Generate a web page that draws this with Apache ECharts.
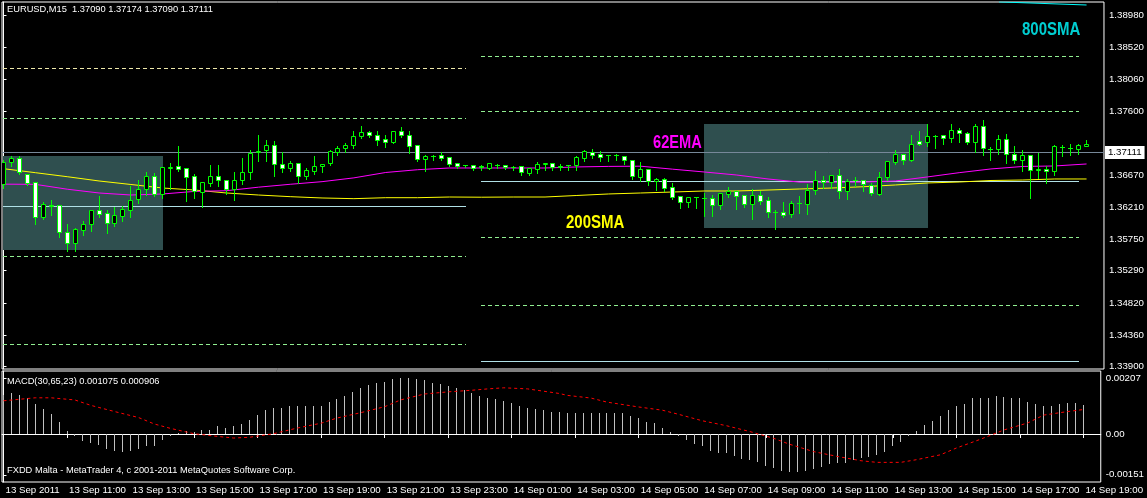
<!DOCTYPE html>
<html><head><meta charset="utf-8">
<script src="https://cdn.jsdelivr.net/npm/echarts@6/dist/echarts.min.js"></script>
<style>html,body{margin:0;padding:0;background:#000;}#c{width:1147px;height:498px;}</style>
</head><body><div id="c"></div>
<script>
// ---------- DATA ----------
const timeLabelBars = [0,8,16,24,32,40,48,56,64,72,80,88,96,104,112,120,128,136];
const timeLabels = ['13 Sep 2011','13 Sep 11:00','13 Sep 13:00','13 Sep 15:00','13 Sep 17:00','13 Sep 19:00','13 Sep 21:00','13 Sep 23:00','14 Sep 01:00','14 Sep 03:00','14 Sep 05:00','14 Sep 07:00','14 Sep 09:00','14 Sep 11:00','14 Sep 13:00','14 Sep 15:00','14 Sep 17:00','14 Sep 19:00'];
const priceTicks = [1.3390,1.3436,1.3482,1.3529,1.3575,1.3621,1.3667,1.3760,1.3806,1.3852,1.3898];
const macdTicks = [0.00207, 0, -0.00151];

const open = [
1.36534,1.36853,1.36910,1.36679,1.36563,1.36057,1.36230,1.36230,1.35840,1.35680,
1.35868,1.35955,1.36158,1.36115,1.35970,1.36071,1.36158,1.36317,1.36462,1.36650,
1.36389,1.36775,1.36795,1.36766,1.36650,1.36418,1.36549,1.36650,1.36592,1.36462,
1.36592,1.36708,1.36997,1.37026,1.37098,1.36824,1.36766,1.36838,1.36650,1.36722,
1.36795,1.36838,1.36997,1.37055,1.37098,1.37229,1.37287,1.37243,1.37185,1.37142,
1.37301,1.37243,1.37098,1.36896,1.36935,1.36954,1.36925,1.36838,1.36805,1.36809,
1.36795,1.36766,1.36815,1.36809,1.36785,1.36795,1.36693,1.36751,1.36832,1.36838,
1.36798,1.36805,1.36809,1.36910,1.36997,1.36968,1.36950,1.36957,1.36939,1.36882,
1.36636,1.36751,1.36578,1.36607,1.36491,1.36361,1.36274,1.36350,1.36328,1.36332,
1.36230,1.36389,1.36433,1.36375,1.36245,1.36375,1.36303,1.36125,1.36129,1.36100,
1.36255,1.36245,1.36447,1.36592,1.36563,1.36664,1.36433,1.36595,1.36592,1.36520,
1.36389,1.36636,1.36853,1.36968,1.36882,1.37156,1.37142,1.37225,1.37243,1.37200,
1.37316,1.37272,1.37142,1.37373,1.37038,1.37041,1.37185,1.36968,1.36882,1.36954,
1.36737,1.36751,1.36722,1.37075,1.37058,1.37041,1.37090];
const close = [
1.36853,1.36910,1.36708,1.36549,1.36057,1.36245,1.36216,1.35840,1.35680,1.35883,
1.35955,1.36158,1.36100,1.35970,1.36086,1.36172,1.36303,1.36462,1.36650,1.36389,
1.36780,1.36785,1.36751,1.36636,1.36433,1.36563,1.36650,1.36592,1.36462,1.36592,
1.36708,1.36983,1.37012,1.37098,1.36824,1.36766,1.36838,1.36650,1.36737,1.36795,
1.36824,1.37012,1.37055,1.37098,1.37229,1.37287,1.37243,1.37171,1.37142,1.37301,
1.37243,1.37084,1.36896,1.36939,1.36945,1.36910,1.36824,1.36795,1.36812,1.36766,
1.36785,1.36838,1.36810,1.36780,1.36778,1.36708,1.36766,1.36824,1.36840,1.36780,
1.36790,1.36812,1.36925,1.37012,1.36954,1.36925,1.36957,1.36950,1.36882,1.36650,
1.36751,1.36578,1.36607,1.36476,1.36346,1.36274,1.36346,1.36342,1.36336,1.36230,
1.36404,1.36433,1.36361,1.36245,1.36375,1.36288,1.36129,1.36133,1.36086,1.36259,
1.36262,1.36447,1.36592,1.36563,1.36664,1.36433,1.36578,1.36588,1.36534,1.36404,
1.36636,1.36867,1.36968,1.36882,1.37113,1.37113,1.37229,1.37232,1.37200,1.37316,
1.37272,1.37142,1.37373,1.37055,1.37045,1.37185,1.36968,1.36882,1.36954,1.36737,
1.36751,1.36722,1.37084,1.37068,1.37052,1.37098,1.37111];
const high = [
1.36896,1.36954,1.36954,1.36693,1.36578,1.36288,1.36317,1.36245,1.35970,1.35912,
1.36013,1.36158,1.36375,1.36172,1.36216,1.36230,1.36520,1.36607,1.36722,1.36708,
1.36795,1.36853,1.37098,1.36780,1.36693,1.36578,1.36824,1.36824,1.36607,1.36722,
1.36925,1.37041,1.37258,1.37185,1.37171,1.37012,1.36882,1.36853,1.36780,1.36954,
1.36838,1.37041,1.37098,1.37142,1.37316,1.37388,1.37316,1.37316,1.37258,1.37301,
1.37373,1.37316,1.37098,1.36968,1.36968,1.37012,1.36925,1.36853,1.36824,1.36824,
1.36824,1.36845,1.36838,1.36824,1.36809,1.36809,1.36780,1.36867,1.36853,1.36853,
1.36838,1.36824,1.36954,1.37041,1.37055,1.37026,1.36968,1.36983,1.36939,1.36896,
1.36867,1.36751,1.36636,1.36636,1.36563,1.36361,1.36361,1.36361,1.36418,1.36389,
1.36404,1.36505,1.36447,1.36375,1.36476,1.36447,1.36361,1.36172,1.36288,1.36303,
1.36375,1.36549,1.36737,1.36664,1.36664,1.36766,1.36621,1.36650,1.36592,1.36563,
1.36722,1.36882,1.37041,1.36983,1.37258,1.37316,1.37417,1.37258,1.37258,1.37417,
1.37359,1.37301,1.37417,1.37475,1.37084,1.37258,1.37272,1.37098,1.37041,1.36954,
1.36997,1.36809,1.37113,1.37113,1.37127,1.37127,1.37174];
const low = [
1.36491,1.36809,1.36693,1.36534,1.35970,1.36042,1.36100,1.35782,1.35579,1.35579,
1.35811,1.35868,1.36071,1.35840,1.35941,1.36013,1.36071,1.36274,1.36389,1.36375,
1.36346,1.36476,1.36737,1.36303,1.36346,1.36216,1.36520,1.36520,1.36404,1.36317,
1.36549,1.36621,1.36882,1.36882,1.36664,1.36722,1.36737,1.36563,1.36621,1.36693,
1.36722,1.36824,1.36968,1.37012,1.37070,1.37214,1.37229,1.37113,1.37084,1.37142,
1.37229,1.36997,1.36882,1.36737,1.36896,1.36896,1.36809,1.36780,1.36795,1.36751,
1.36751,1.36760,1.36780,1.36766,1.36751,1.36679,1.36679,1.36708,1.36751,1.36751,
1.36751,1.36751,1.36751,1.36882,1.36925,1.36882,1.36882,1.36896,1.36838,1.36621,
1.36592,1.36534,1.36462,1.36447,1.36332,1.36201,1.36216,1.36201,1.36086,1.36086,
1.36187,1.36361,1.36187,1.36216,1.36042,1.36259,1.36071,1.35897,1.36071,1.36071,
1.36129,1.36115,1.36404,1.36491,1.36491,1.36346,1.36332,1.36520,1.36447,1.36389,
1.36385,1.36607,1.36838,1.36838,1.36880,1.37110,1.37098,1.37070,1.37127,1.37156,
1.37156,1.37127,1.37012,1.36968,1.36896,1.36983,1.36853,1.36853,1.36737,1.36346,
1.36636,1.36563,1.36679,1.36954,1.36968,1.36983,1.37090];

const maBars = [0,4,8,12,16,20,24,28,32,36,40,44,48,52,56,60,64,68,72,76,80,84,88,92,96,100,104,108,112,116,120,124,128,132,136];
const ema62 = [1.36542,1.36539,1.36469,1.36414,1.36385,1.36400,1.36437,1.36447,1.36498,1.36540,1.36578,1.36633,1.36711,1.36751,1.36776,1.36776,1.36776,1.36776,1.36791,1.36799,1.36802,1.36759,1.36718,1.36675,1.36617,1.36571,1.36571,1.36573,1.36588,1.36646,1.36708,1.36762,1.36798,1.36805,1.36834];
const sma200 = [1.36766,1.36708,1.36650,1.36588,1.36537,1.36486,1.36457,1.36414,1.36385,1.36361,1.36342,1.36332,1.36346,1.36346,1.36356,1.36353,1.36356,1.36356,1.36378,1.36400,1.36414,1.36428,1.36443,1.36443,1.36457,1.36472,1.36486,1.36505,1.36530,1.36559,1.36573,1.36595,1.36602,1.36617,1.36617];
const sma800Bars = [125, 136];
const sma800 = [1.39180, 1.39135];

const macdHist = [
0.00144,0.00150,0.00146,0.00133,0.00111,0.00092,0.00073,0.00044,0.00010,-0.00006,
-0.00026,-0.00033,-0.00041,-0.00057,-0.00063,-0.00068,-0.00063,-0.00057,-0.00045,-0.00043,
-0.00024,-0.00006,0.00002,0.00011,0.00006,0.00016,0.00016,0.00028,0.00022,0.00028,
0.00037,0.00052,0.00071,0.00088,0.00098,0.00098,0.00102,0.00104,0.00104,0.00104,
0.00105,0.00117,0.00128,0.00140,0.00154,0.00171,0.00181,0.00187,0.00193,0.00205,
0.00207,0.00207,0.00205,0.00199,0.00190,0.00184,0.00176,0.00171,0.00162,0.00150,
0.00140,0.00132,0.00129,0.00123,0.00116,0.00104,0.00095,0.00092,0.00089,0.00083,
0.00081,0.00076,0.00076,0.00078,0.00079,0.00079,0.00079,0.00079,0.00079,0.00066,
0.00061,0.00045,0.00039,0.00024,0.00006,-0.00007,-0.00022,-0.00037,-0.00046,-0.00062,
-0.00071,-0.00071,-0.00081,-0.00092,-0.00095,-0.00102,-0.00117,-0.00126,-0.00138,-0.00142,
-0.00140,-0.00138,-0.00129,-0.00122,-0.00111,-0.00109,-0.00107,-0.00095,-0.00090,-0.00087,
-0.00079,-0.00065,-0.00044,-0.00029,-0.00007,0.00010,0.00032,0.00049,0.00067,0.00087,
0.00102,0.00112,0.00132,0.00135,0.00135,0.00140,0.00138,0.00132,0.00132,0.00118,
0.00110,0.00105,0.00105,0.00110,0.00113,0.00116,0.001075];
const signalBars = [0,4,6,9,11,14,17,19,21,24,27,29,31,34,37,40,42,45,48,50,53,56,59,61,63,66,70,71,74,76,80,83,85,88,91,94,97,99,102,105,108,110,113,115,118,120,123,126,129,131,134,136];
const signal = [0.00123,0.00134,0.00134,0.00126,0.00106,0.00083,0.00061,0.00037,0.00021,0.00001,-0.00009,-0.00015,-0.00012,0.00001,0.00022,0.00040,0.00059,0.00079,0.00101,0.00126,0.00148,0.00156,0.00162,0.00167,0.00171,0.00167,0.00150,0.00143,0.00133,0.00118,0.00100,0.00088,0.00073,0.00049,0.00031,0.00009,-0.00016,-0.00038,-0.00065,-0.00083,-0.00099,-0.00105,-0.00105,-0.00095,-0.00077,-0.00052,-0.00020,0.00015,0.00041,0.00070,0.00083,0.000906];

// pivot levels, per day (bar range)
const day1Range = [0, 58];
const day1Levels = [1.38213, 1.37489, 1.36216, 1.35492, 1.34218];
const day2Range = [60, 135];
const day2Levels = [1.38387, 1.37591, 1.36578, 1.35767, 1.34783, 1.33972];

// rectangles
const rectStartBar = [0, 88];
const rectEndBar = [20, 116];
const rectHigh = [1.36954, 1.37417];
const rectLow = [1.35593, 1.35912];

const lastClose = 1.37111;

// ---------- STYLES ----------
const FONT = '"Liberation Sans", Arial, sans-serif';
const day1Styles = ['cream','green','pivot','green','green'];
const day2Styles = ['green','green','pivot','green','green','pivot'];
const lineStyles = {
  cream: {color:'#EEE8AA', dash:[4,3]},
  green: {color:'#90EE90', dash:[4,3]},
  pivot: {color:'#B0E0E6', dash:null}
};

const xMin = (2 - 3.5) / 8, xMax = (1109 - 3.5) / 8;

const chart = echarts.init(document.getElementById('c'), null, {renderer:'canvas'});

const candleData = open.map((o,i)=>[i,o,close[i],low[i],high[i]]);
const pivotData = [];
day1Levels.forEach((v,i)=>pivotData.push([day1Range[0], day1Range[1], v, day1Styles[i]]));
day2Levels.forEach((v,i)=>pivotData.push([day2Range[0], day2Range[1], v, day2Styles[i]]));
const rectData = rectStartBar.map((s,i)=>[s, rectEndBar[i], rectHigh[i], rectLow[i]]);

function snap(v){ return Math.round(v - 0.5) + 0.5; }

const option = {
  backgroundColor: '#000',
  animation: false,
  grid: [
    {left:2, top:2, width:1107, height:367, show:true, borderColor:'#fff', borderWidth:1, backgroundColor:'#000'},
    {left:2, top:371, width:1107, height:111, show:true, borderColor:'#fff', borderWidth:1, backgroundColor:'#000'}
  ],
  xAxis: [
    {gridIndex:0, type:'value', min:xMin, max:xMax, show:false, splitLine:{show:false}},
    {gridIndex:1, type:'value', min:xMin, max:xMax, splitLine:{show:false},
     axisLine:{show:true, lineStyle:{color:'#fff'}},
     axisTick:{show:true, length:4, lineStyle:{color:'#fff'}, customValues: timeLabelBars},
     axisLabel:{show:true, color:'#fff', fontSize:9.7, fontFamily:FONT, align:'left', margin:3, padding:[0,0,0,2],
       customValues: timeLabelBars,
       formatter: v => timeLabels[timeLabelBars.indexOf(Math.round(v))] || ''}}
  ],
  yAxis: [
    {gridIndex:0, type:'value', position:'right', min:1.338667, max:1.391783, splitLine:{show:false},
     axisLine:{show:true, lineStyle:{color:'#fff'}},
     axisTick:{show:true, length:3, lineStyle:{color:'#fff'}, customValues: priceTicks},
     axisLabel:{show:true, color:'#fff', fontSize:9.7, fontFamily:FONT, margin:5, customValues: priceTicks,
       formatter: v => v.toFixed(5)}},
    {gridIndex:1, type:'value', position:'right', min:-0.001777, max:0.002332, splitLine:{show:false},
     axisLine:{show:true, lineStyle:{color:'#fff'}},
     axisTick:{show:true, length:3, lineStyle:{color:'#fff'}, customValues: macdTicks},
     axisLabel:{show:true, color:'#fff', fontSize:9.7, fontFamily:FONT, margin:5, customValues: macdTicks,
       formatter: v => (Math.abs(v) < 1e-9 ? '0.00' : v.toFixed(5))}}
  ],
  series: [
    { // rectangles
      type:'custom', xAxisIndex:0, yAxisIndex:0, z:1, clip:true, silent:true,
      data: rectData,
      renderItem: (params, api) => {
        const p0 = api.coord([api.value(0), api.value(2)]);
        const p1 = api.coord([api.value(1), api.value(3)]);
        return {type:'rect', shape:{x:Math.round(p0[0]-0.5), y:Math.round(p0[1]), width:Math.round(p1[0]-p0[0])+1, height:Math.round(p1[1]-p0[1])},
          style:{fill:'#2F4F4F'}};
      }
    },
    { // pivot lines
      type:'custom', xAxisIndex:0, yAxisIndex:0, z:2, clip:true, silent:true,
      data: pivotData,
      dimensions: ['x0','x1','v','s'],
      renderItem: (params, api) => {
        const d = pivotData[params.dataIndex];
        const st = lineStyles[d[3]];
        const p0 = api.coord([d[0], d[2]]);
        const p1 = api.coord([d[1], d[2]]);
        const y = snap(p0[1]);
        return {type:'line', shape:{x1:Math.floor(p0[0]), y1:y, x2:Math.floor(p1[0])+1, y2:y},
          style:{stroke:st.color, lineWidth:1, lineDash:st.dash}};
      }
    },
    { // 200 SMA
      type:'line', xAxisIndex:0, yAxisIndex:0, z:3, silent:true, showSymbol:false,
      data: maBars.map((b,i)=>[b, sma200[i]]),
      lineStyle:{color:'#FFFF00', width:1}
    },
    { // 62 EMA
      type:'line', xAxisIndex:0, yAxisIndex:0, z:3, silent:true, showSymbol:false,
      data: maBars.map((b,i)=>[b, ema62[i]]),
      lineStyle:{color:'#FF00FF', width:1},
      markLine:{silent:true, symbol:['none','none'], animation:false,
        lineStyle:{color:'#778899', type:'solid', width:1},
        label:{show:true, position:'end', distance:1, formatter: lastClose.toFixed(5), color:'#000', backgroundColor:'#fff',
          padding:[2,3,1,3], fontSize:9.7, fontFamily:FONT},
        data:[{yAxis:lastClose}]}
    },
    { // 800 SMA
      type:'line', xAxisIndex:0, yAxisIndex:0, z:3, silent:true, showSymbol:false, clip:true,
      data: sma800Bars.map((b,i)=>[b, sma800[i]]),
      lineStyle:{color:'#00FFFF', width:1}
    },
    { // candles
      type:'custom', xAxisIndex:0, yAxisIndex:0, z:5, clip:true, silent:true,
      data: candleData,
      dimensions:['x','open','close','low','high'],
      encode:{x:0, y:[1,2,3,4]},
      renderItem: (params, api) => {
        const k = api.value(0), o = api.value(1), c = api.value(2), l = api.value(3), h = api.value(4);
        const pO = api.coord([k,o]), pC = api.coord([k,c]), pH = api.coord([k,h]), pL = api.coord([k,l]);
        const x = Math.floor(pO[0]) + 0.5;
        const yT = snap(Math.min(pO[1], pC[1])), yB = snap(Math.max(pO[1], pC[1]));
        const ch = [{type:'line', shape:{x1:x, y1:Math.round(pH[1]), x2:x, y2:Math.round(pL[1])+1}, style:{stroke:'#00FF00', lineWidth:1}}];
        if (yB - yT < 1) {
          ch.push({type:'line', shape:{x1:x-2.5, y1:yT, x2:x+2.5, y2:yT}, style:{stroke:'#00FF00', lineWidth:1}});
        } else {
          ch.push({type:'rect', shape:{x:x-2, y:yT, width:4, height:yB-yT}, style:{fill: c < o ? '#FFFFFF' : '#000000', stroke:'#00FF00', lineWidth:1}});
        }
        return {type:'group', children:ch};
      }
    },
    { // MACD histogram
      type:'custom', xAxisIndex:1, yAxisIndex:1, z:3, clip:true, silent:true,
      data: macdHist.map((v,i)=>[i,v]),
      renderItem: (params, api) => {
        const p0 = api.coord([api.value(0), 0]);
        const p1 = api.coord([api.value(0), api.value(1)]);
        const x = Math.floor(p0[0]) + 0.5;
        return {type:'line', shape:{x1:x, y1:Math.round(p0[1]), x2:x, y2:Math.round(p1[1])}, style:{stroke:'#C0C0C0', lineWidth:1}};
      }
    },
    { // MACD signal
      type:'line', xAxisIndex:1, yAxisIndex:1, z:4, silent:true, showSymbol:false,
      data: signalBars.map((b,i)=>[b, signal[i]]),
      lineStyle:{color:'#FF0000', width:1, type:[3,3]}
    }
  ],
  graphic: [
    {type:'text', x:7, y:5, z:100, style:{text:'EURUSD,M15  1.37090 1.37174 1.37090 1.37111', fill:'#fff', font:'9.3px ' + FONT, verticalAlign:'top'}},
    {type:'text', x:7, y:377, z:100, style:{text:'MACD(30,65,23) 0.001075 0.000906', fill:'#fff', font:'9.3px ' + FONT, verticalAlign:'top'}},
    {type:'text', x:7, y:466, z:100, style:{text:'FXDD Malta - MetaTrader 4, c 2001-2011 MetaQuotes Software Corp.', fill:'#fff', font:'9.3px ' + FONT, verticalAlign:'top'}},
    {type:'text', x:653, y:133, scaleX:0.77, z:100, style:{text:'62EMA', fill:'#FF00FF', font:'bold 19px ' + FONT, verticalAlign:'top'}},
    {type:'text', x:566, y:213, scaleX:0.79, z:100, style:{text:'200SMA', fill:'#FFFF00', font:'bold 19px ' + FONT, verticalAlign:'top'}},
    {type:'text', x:1022, y:20, scaleX:0.79, z:100, style:{text:'800SMA', fill:'#00CED1', font:'bold 19px ' + FONT, verticalAlign:'top'}}
  ]
};
chart.setOption(option);
</script>
</body></html>
